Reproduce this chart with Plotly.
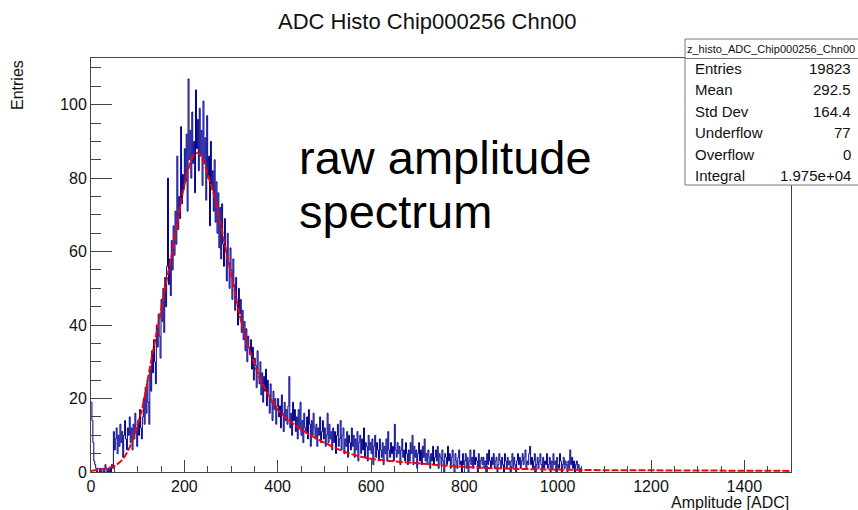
import numpy as np
import plotly.graph_objects as go

# ---------------- data ----------------
BIN_WIDTH = 2  # ADC units per bin
counts = [
    19, 14, 8, 3, 2, 1, 0, 1, 1, 0,
    1, 0, 0, 1, 0, 2, 1, 0, 1, 0,
    1, 0, 2, 1, 11, 6, 9, 12, 5, 10,
    7, 13, 8, 11, 4, 10, 14, 9, 6, 12,
    10, 15, 8, 12, 6, 13, 9, 16, 11, 7,
    14, 10, 17, 12, 9, 15, 20, 13, 23, 16,
    25, 19, 13, 28, 22, 33, 27, 36, 30, 24,
    40, 34, 43, 37, 31, 47, 41, 50, 38, 53,
    45, 56, 80, 51, 58, 48, 63, 55, 67, 59,
    71, 62, 86, 66, 75, 69, 94, 73, 81, 77,
    88, 79, 92, 71, 107, 85, 93, 80, 98, 84,
    90, 76, 104, 88, 96, 82, 99, 86, 93, 78,
    101, 84, 91, 74, 97, 80, 86, 67, 90, 77,
    82, 71, 85, 68, 79, 65, 76, 61, 72, 58,
    73, 62, 56, 69, 60, 52, 65, 57, 50, 61,
    55, 47, 58, 51, 44, 53, 46, 40, 50, 43,
    47, 38, 44, 36, 41, 33, 39, 30, 37, 34,
    32, 36, 28, 34, 25, 31, 29, 23, 33, 27,
    24, 30, 21, 27, 19, 26, 22, 28, 18, 25,
    21, 16, 24, 19, 14, 22, 17, 20, 13, 18,
    20, 15, 18, 12, 21, 16, 11, 19, 14, 17,
    13, 18, 26, 12, 16, 10, 19, 14, 17, 11,
    15, 9, 17, 12, 19, 10, 14, 8, 16, 12,
    11, 15, 9, 17, 13, 7, 14, 10, 16, 12,
    9, 13, 7, 12, 10, 15, 8, 11, 14, 9,
    12, 7, 10, 16, 8, 13, 9, 11, 6, 12,
    8, 11, 5, 10, 13, 7, 9, 14, 6, 10,
    12, 5, 9, 7, 11, 4, 10, 8, 6, 12,
    7, 10, 4, 9, 6, 11, 3, 8, 10, 5,
    9, 6, 12, 4, 8, 7, 3, 10, 6, 8,
    5, 9, 2, 7, 10, 4, 8, 6, 3, 9,
    6, 4, 8, 2, 7, 5, 9, 3, 11, 6,
    4, 8, 5, 7, 3, 13, 6, 4, 8, 5,
    7, 2, 6, 9, 4, 6, 3, 8, 5, 2,
    6, 3, 8, 5, 10, 2, 7, 4, 6, 1,
    5, 8, 3, 6, 2, 7, 4, 9, 3, 5,
    2, 6, 4, 1, 5, 3, 7, 2, 4, 6,
    3, 7, 1, 5, 4, 2, 6, 3, 0, 5,
    4, 2, 7, 3, 5, 1, 4, 6, 2, 0,
    5, 3, 1, 4, 6, 2, 3, 0, 5, 2,
    3, 5, 1, 4, 0, 3, 6, 2, 4, 1,
    6, 2, 4, 3, 0, 5, 1, 3, 4, 2,
    4, 1, 3, 0, 5, 2, 6, 3, 1, 4,
    2, 5, 1, 3, 4, 0, 2, 5, 3, 1,
    4, 2, 0, 5, 3, 1, 4, 2, 3, 0,
    3, 5, 1, 4, 2, 0, 3, 5, 2, 4,
    1, 3, 5, 2, 4, 6, 1, 3, 2, 5,
    7, 2, 4, 1, 3, 5, 0, 2, 4, 1,
    3, 5, 2, 0, 4, 1, 3, 2, 5, 1,
    2, 4, 0, 3, 1, 5, 2, 3, 0, 4,
    2, 1, 5, 3, 0, 2, 4, 1, 3, 2,
    0, 3, 1, 6, 2, 4, 1, 3, 0, 2,
    3, 1, 2, 0, 1,
]

fit_x = [0, 20, 40, 50, 60, 70, 80, 90, 100, 110, 120, 130, 140, 150, 160, 170,
         180, 190, 200, 210, 220, 230, 240, 250, 260, 270, 280, 290, 300, 310,
         320, 330, 340, 350, 360, 370, 380, 390, 400, 420, 440, 460, 480, 500,
         550, 600, 650, 700, 750, 800, 850, 900, 950, 1000, 1100, 1200, 1300,
         1400, 1500]
fit_y = [0.3, 0.7, 1.2, 1.6, 2.5, 3.8, 6, 9, 13, 17.5, 24, 31, 37.5, 44, 51, 57,
         64.5, 71.5, 78, 83, 86.3, 86.8, 85, 81, 77, 72, 66, 60, 54, 48,
         42, 37, 33, 29.5, 26, 23.5, 21, 19, 17, 14.5, 12.5, 10.8, 9.4, 8.0,
         5.2, 3.6, 2.9, 2.4, 1.8, 1.4, 1.1, 0.9, 0.75, 0.65, 0.5, 0.45, 0.4,
         0.35, 0.3]

title_text = "ADC Histo Chip000256 Chn00"
stats_name = "z_histo_ADC_Chip000256_Chn00"
stats_labels = ["Entries", "Mean", "Std Dev", "Underflow", "Overflow", "Integral"]
stats_values = ["19823", "292.5", "164.4", "77", "0", "1.975e+04"]
x_range = [0, 1500]
y_range = [0, 112.7]

# ---------------- figure ----------------
FONT = "Liberation Sans, Arial, Helvetica, sans-serif"
W, H = 858, 510
L, R, T, B = 91, 791, 58, 472  # plot area in pixels


def px(xp):
    return (xp - L) / (R - L)


def py(yp):
    return (B - yp) / (B - T)


edges = np.arange(len(counts) + 1) * BIN_WIDTH
hist_y = list(counts) + [0]

fig = go.Figure()
fig.add_trace(go.Scatter(
    x=edges, y=hist_y, mode="lines", line_shape="hv",
    line=dict(color="#00008f", width=1), hoverinfo="skip"))
fig.add_trace(go.Scatter(
    x=fit_x, y=fit_y, mode="lines", line_shape="spline",
    line=dict(color="#ff0000", width=2, dash="7px,2px"), hoverinfo="skip"))

axis_common = dict(showgrid=False, zeroline=False, showline=True,
                   linecolor="#444", linewidth=1, mirror=True,
                   ticks="inside", tickcolor="#444", tickwidth=1,
                   tickfont=dict(family=FONT, size=16, color="#111"))

fig.update_xaxes(range=x_range, tick0=0, dtick=200, ticklen=12,
                 minor=dict(dtick=50, ticklen=6, ticks="inside", tickcolor="#444"),
                 **axis_common)
fig.update_yaxes(range=y_range, tick0=0, dtick=20, ticklen=21,
                 minor=dict(dtick=5, ticklen=10, ticks="inside", tickcolor="#444"),
                 **axis_common)

annotations = [
    dict(text=title_text, x=px(427), y=py(21), xref="paper", yref="paper",
         xanchor="center", yanchor="middle", showarrow=False,
         font=dict(family=FONT, size=22, color="#111")),
    dict(text="Entries", x=px(17), y=py(58), xref="paper", yref="paper",
         xanchor="center", yanchor="top", textangle=-90, showarrow=False,
         font=dict(family=FONT, size=16, color="#111")),
    dict(text="Amplitude [ADC]", x=px(791), y=py(502), xref="paper", yref="paper",
         xanchor="right", yanchor="middle", showarrow=False,
         font=dict(family=FONT, size=16, color="#111")),
    dict(text="raw amplitude", x=px(297), y=py(157), xref="paper", yref="paper",
         xanchor="left", yanchor="middle", showarrow=False,
         font=dict(family=FONT, size=47, color="#000")),
    dict(text="spectrum", x=px(297), y=py(211), xref="paper", yref="paper",
         xanchor="left", yanchor="middle", showarrow=False,
         font=dict(family=FONT, size=47, color="#000")),
    dict(text=stats_name, x=px(771), y=py(49), xref="paper", yref="paper",
         xanchor="center", yanchor="middle", showarrow=False,
         font=dict(family=FONT, size=11, color="#111")),
]
row_y = [68, 89.5, 111, 132.5, 154, 175.5]
for lab, val, yy in zip(stats_labels, stats_values, row_y):
    annotations.append(dict(text=lab, x=px(693), y=py(yy), xref="paper", yref="paper",
                            xanchor="left", yanchor="middle", showarrow=False,
                            font=dict(family=FONT, size=15, color="#111")))
    annotations.append(dict(text=val, x=px(853), y=py(yy), xref="paper", yref="paper",
                            xanchor="right", yanchor="middle", showarrow=False,
                            font=dict(family=FONT, size=15, color="#111")))

shapes = [
    dict(type="rect", xref="paper", yref="paper", x0=px(685), x1=px(860),
         y0=py(185), y1=py(39), line=dict(color="#777", width=1),
         fillcolor="white", layer="above"),
    dict(type="line", xref="paper", yref="paper", x0=px(685), x1=px(860),
         y0=py(58.5), y1=py(58.5), line=dict(color="#777", width=1), layer="above"),
]

fig.update_layout(width=W, height=H, autosize=False,
                  margin=dict(l=L, r=W - R, t=T, b=H - B, pad=0),
                  paper_bgcolor="white", plot_bgcolor="white",
                  showlegend=False, annotations=annotations, shapes=shapes,
                  font=dict(family=FONT))

fig.write_html("out.html")
